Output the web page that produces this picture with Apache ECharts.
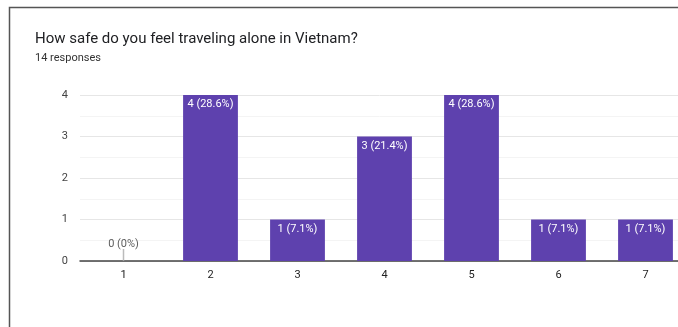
<!DOCTYPE html>
<html><head><meta charset="utf-8">
<script src="https://cdn.jsdelivr.net/npm/echarts@6/dist/echarts.min.js"></script>
<style>html,body{margin:0;padding:0;background:#fff;}#c{width:678px;height:327px;}</style>
</head><body><div id="c"></div>
<script>
const categories = ['1','2','3','4','5','6','7'];
const counts = [0, 4, 1, 3, 4, 1, 1];
const totalResponses = 14;
const yTicks = [0, 1, 2, 3, 4];

function pctLabel(v){
  const p = Math.round(v / totalResponses * 1000) / 10;
  return v + ' (' + (p === 0 ? '0' : p.toFixed(1)) + '%)';
}
const zeroPoints = counts.map((v,i)=> v === 0 ? [categories[i], 0] : null).filter(Boolean);

const chart = echarts.init(document.getElementById('c'), null, {renderer:'canvas'});
chart.setOption({
  animation:false,
  backgroundColor:'#fff',
  textStyle:{fontFamily:'Roboto'},
  graphic:[
    {type:'polyline', shape:{points:[[9.5,340],[9.5,7.5],[690,7.5]]}, style:{stroke:'#555', lineWidth:1.5, fill:null}},
    {type:'text', left:35, top:32, style:{text:'How safe do you feel traveling alone in Vietnam?', font:'15px Roboto', fill:'#202124'}},
    {type:'text', left:35, top:53, style:{text:totalResponses + ' responses', font:'11px Roboto', fill:'#333'}}
  ],
  grid:{left:80, right:-11, top:95, bottom:66, outerBoundsMode:'none', containLabel:false},
  xAxis:{type:'category', data:categories,
    axisLine:{lineStyle:{color:'#444', width:1.5}},
    axisTick:{show:false},
    axisLabel:{color:'#222', fontSize:11, margin:9}
  },
  yAxis:{type:'value', min:0, max:4, interval:1,
    axisLine:{show:false}, axisTick:{show:false},
    axisLabel:{color:'#444', fontSize:11, margin:12, formatter:v=> yTicks.includes(v) ? String(v) : ''},
    splitLine:{lineStyle:{color:'#e6e6e6'}},
    minorTick:{show:false, splitNumber:2},
    minorSplitLine:{show:true, lineStyle:{color:'#f4f4f4'}}
  },
  series:[
    {type:'bar', data:counts, barWidth:'63%',
      itemStyle:{color:'#5e41ae'},
      label:{show:true, position:'insideTop', distance:4, color:'#fff', fontSize:11,
        formatter:p=> p.value === 0 ? '' : pctLabel(p.value)}
    },
    {type:'scatter', data:zeroPoints, symbol:'rect', symbolSize:[1.5,12], symbolOffset:[0,-6],
      itemStyle:{color:'#aaa'}, z:3,
      label:{show:true, position:'top', distance:-1, color:'#333', fontSize:11,
        formatter:p=> pctLabel(p.value[1])}
    }
  ]
});
</script></body></html>
